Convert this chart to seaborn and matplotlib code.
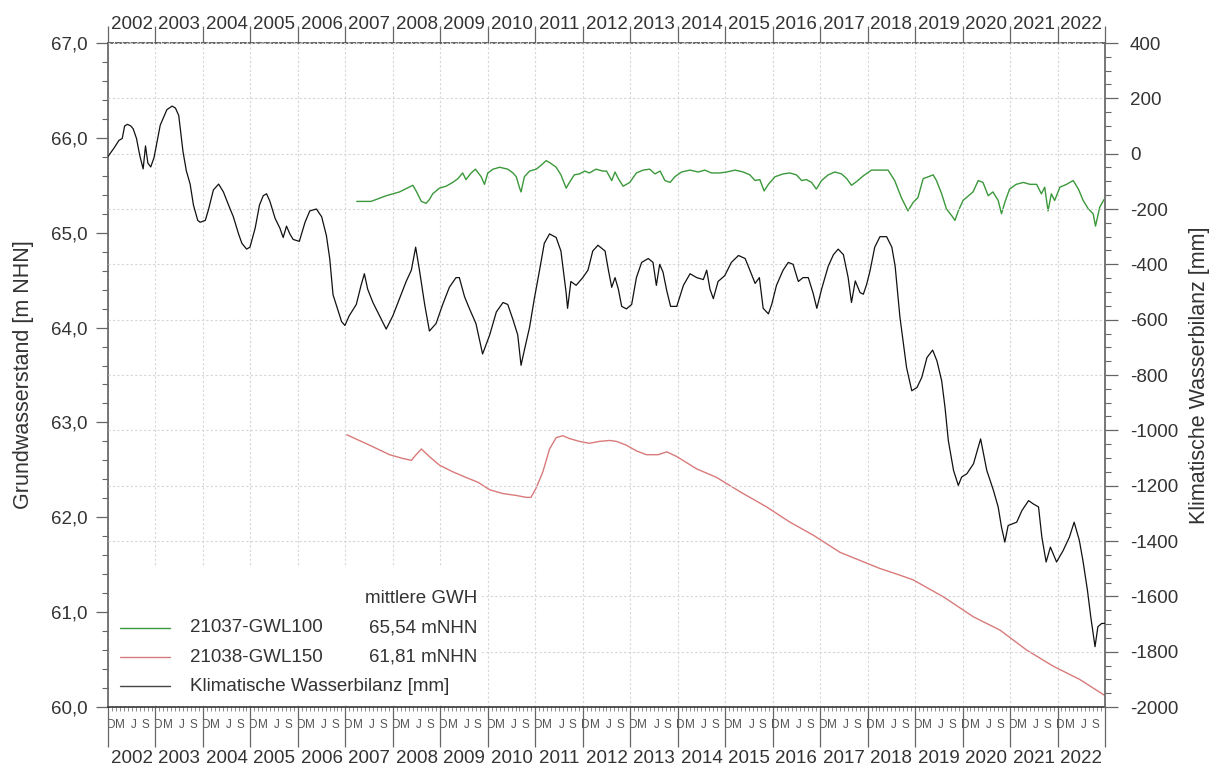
import matplotlib
matplotlib.use("Agg")
import matplotlib.pyplot as plt
import seaborn as sns
from matplotlib.patches import Rectangle
from matplotlib.ticker import FixedLocator, MultipleLocator, FuncFormatter

# ---------------- data ----------------
# time axis: hydrological years since 1 Nov 2001 (0 = start of hydro year 2002)
years = [str(y) for y in range(2002, 2023)]
month_letters = ["D", "M", "J", "S"]
month_label_frac = [0.062, 0.255, 0.55, 0.79]

gwl100_t = [5.24, 5.54, 5.86, 6.14, 6.42, 6.49, 6.60, 6.70, 6.77, 6.84, 6.98, 7.12, 7.26, 7.37,
            7.47, 7.54, 7.65, 7.74, 7.86, 7.93, 8.00, 8.11, 8.25, 8.42, 8.53, 8.60, 8.67, 8.70,
            8.77, 8.88, 9.02, 9.12, 9.23, 9.33, 9.44, 9.54, 9.65, 9.72, 9.82, 9.93, 10.04, 10.14,
            10.28, 10.42, 10.50, 10.61, 10.68, 10.75, 10.85, 10.99, 11.13, 11.27, 11.41, 11.52,
            11.63, 11.73, 11.84, 11.94, 12.08, 12.26, 12.43, 12.57, 12.71, 12.89, 13.03, 13.21,
            13.38, 13.52, 13.63, 13.73, 13.82, 13.91, 14.05, 14.22, 14.36, 14.50, 14.61, 14.71,
            14.82, 14.92, 15.03, 15.17, 15.31, 15.45, 15.56, 15.66, 15.77, 15.91, 16.08, 16.26,
            16.43, 16.57, 16.71, 16.85, 16.96, 17.06, 17.17, 17.28, 17.38, 17.45, 17.56, 17.66,
            17.77, 17.84, 17.91, 18.01, 18.08, 18.22, 18.33, 18.43, 18.54, 18.64, 18.75, 18.82,
            18.89, 18.99, 19.13, 19.28, 19.42, 19.56, 19.66, 19.73, 19.80, 19.87, 19.94, 20.05,
            20.19, 20.33, 20.44, 20.54, 20.65, 20.75, 20.80, 20.89, 20.98]
gwl100_m = [65.33, 65.33, 65.39, 65.43, 65.50, 65.44, 65.33, 65.31, 65.35, 65.41, 65.47, 65.49,
            65.53, 65.57, 65.63, 65.56, 65.63, 65.67, 65.59, 65.51, 65.63, 65.67, 65.69, 65.67,
            65.63, 65.59, 65.47, 65.43, 65.59, 65.65, 65.67, 65.71, 65.76, 65.73, 65.69, 65.61,
            65.47, 65.53, 65.61, 65.62, 65.65, 65.63, 65.67, 65.65, 65.65, 65.55, 65.64, 65.57,
            65.49, 65.53, 65.63, 65.66, 65.67, 65.62, 65.65, 65.55, 65.53, 65.59, 65.64, 65.66,
            65.64, 65.66, 65.63, 65.63, 65.64, 65.66, 65.64, 65.61, 65.55, 65.56, 65.44, 65.51,
            65.59, 65.62, 65.63, 65.61, 65.55, 65.56, 65.53, 65.46, 65.55, 65.61, 65.64, 65.62,
            65.57, 65.50, 65.54, 65.60, 65.66, 65.66, 65.66, 65.55, 65.37, 65.23, 65.32, 65.37,
            65.57, 65.59, 65.61, 65.55, 65.41, 65.25, 65.18, 65.13, 65.23, 65.34, 65.37, 65.43,
            65.55, 65.53, 65.39, 65.43, 65.34, 65.20, 65.32, 65.46, 65.51, 65.53, 65.51, 65.51,
            65.41, 65.48, 65.23, 65.41, 65.34, 65.48, 65.51, 65.55, 65.46, 65.34, 65.25, 65.20,
            65.07, 65.27, 65.35]

gwl150_t = [5.03, 5.51, 5.93, 6.21, 6.39, 6.49, 6.60, 6.77, 6.98, 7.26, 7.54, 7.79, 8.04, 8.32,
            8.60, 8.81, 8.91, 9.02, 9.16, 9.30, 9.44, 9.58, 9.72, 9.93, 10.14, 10.35, 10.57,
            10.71, 10.92, 11.13, 11.34, 11.59, 11.77, 11.98, 12.40, 12.82, 13.31, 13.87, 14.36,
            14.86, 15.42, 16.26, 16.68, 16.96, 17.60, 18.23, 18.79, 19.35, 19.91, 20.47, 21.00]
gwl150_m = [62.87, 62.76, 62.66, 62.62, 62.60, 62.66, 62.72, 62.64, 62.55, 62.48, 62.42, 62.37,
            62.29, 62.25, 62.23, 62.21, 62.21, 62.31, 62.48, 62.72, 62.84, 62.86, 62.83, 62.80,
            62.78, 62.80, 62.81, 62.80, 62.76, 62.70, 62.66, 62.66, 62.69, 62.64, 62.51, 62.42,
            62.27, 62.11, 61.95, 61.81, 61.63, 61.46, 61.39, 61.34, 61.16, 60.95, 60.81, 60.60,
            60.43, 60.29, 60.12]

kwb_t = [0.00, 0.13, 0.23, 0.30, 0.35, 0.41, 0.48, 0.53, 0.60, 0.67, 0.74, 0.79, 0.84, 0.90, 0.97,
         1.10, 1.17, 1.24, 1.35, 1.42, 1.49, 1.58, 1.65, 1.73, 1.80, 1.89, 1.94, 2.05, 2.12, 2.22,
         2.33, 2.43, 2.54, 2.64, 2.75, 2.82, 2.92, 2.99, 3.10, 3.19, 3.27, 3.34, 3.41, 3.52, 3.62,
         3.69, 3.76, 3.83, 3.90, 4.03, 4.15, 4.25, 4.39, 4.50, 4.60, 4.67, 4.74, 4.83, 4.92, 4.99,
         5.08, 5.23, 5.33, 5.40, 5.47, 5.58, 5.72, 5.86, 6.00, 6.14, 6.28, 6.39, 6.48, 6.56, 6.67,
         6.77, 6.91, 7.05, 7.19, 7.33, 7.40, 7.51, 7.61, 7.75, 7.89, 8.04, 8.18, 8.32, 8.42, 8.53,
         8.63, 8.70, 8.77, 8.88, 8.98, 9.09, 9.19, 9.30, 9.44, 9.54, 9.65, 9.68, 9.75, 9.86, 10.00,
         10.11, 10.21, 10.32, 10.47, 10.54, 10.61, 10.68, 10.75, 10.82, 10.92, 11.03, 11.13, 11.24,
         11.38, 11.48, 11.55, 11.62, 11.69, 11.77, 11.85, 11.98, 12.12, 12.26, 12.40, 12.54, 12.61,
         12.68, 12.75, 12.85, 12.99, 13.13, 13.28, 13.42, 13.52, 13.63, 13.72, 13.80, 13.91, 13.98,
         14.08, 14.22, 14.33, 14.43, 14.54, 14.64, 14.75, 14.85, 14.93, 15.03, 15.17, 15.28, 15.38,
         15.49, 15.59, 15.66, 15.74, 15.84, 15.91, 15.98, 16.05, 16.15, 16.26, 16.40, 16.51, 16.58,
         16.68, 16.82, 16.93, 17.04, 17.14, 17.25, 17.37, 17.46, 17.56, 17.63, 17.70, 17.81, 17.91,
         17.98, 18.09, 18.23, 18.38, 18.51, 18.65, 18.75, 18.82, 18.89, 18.96, 19.14, 19.25, 19.39,
         19.49, 19.60, 19.67, 19.76, 19.85, 19.98, 20.12, 20.25, 20.35, 20.46, 20.54, 20.63, 20.70,
         20.79, 20.85, 20.93, 21.00]
kwb_mm = [-10, 21, 48, 55, 100, 106, 100, 90, 55, -7, -55, 28, -34, -48, -14,
          103, 131, 159, 172, 165, 138, 7, -62, -110, -186, -241, -248, -241, -200, -131,
          -110, -138, -186, -228, -290, -324, -345, -338, -269, -186, -152, -145, -172, -234, -269,
          -303, -262, -290, -310, -317, -248, -207, -200, -228, -296, -379, -510, -559, -607, -621,
          -586, -545, -476, -434, -490, -538, -586, -634, -586, -524, -462, -421, -338, -421, -545,
          -641, -614, -545, -483, -448, -448, -517, -559, -614, -724, -655, -572, -538, -545, -600,
          -655, -765, -710, -627, -524, -421, -324, -290, -303, -352, -503, -559, -462, -476, -448,
          -421, -352, -331, -352, -421, -483, -448, -490, -552, -561, -545, -448, -393,
          -379, -393, -476, -400, -428, -496, -552, -552, -476, -434, -448, -455, -421,
          -490, -524, -462, -441, -393, -368, -379, -421, -469, -448, -559, -579, -545,
          -476, -421, -393, -400, -462, -448, -448, -503, -559, -490, -407, -365, -345,
          -365, -448, -538, -460, -502, -508, -472, -424, -338, -300, -300, -338, -407,
          -590, -773, -857, -845, -809, -737, -710, -749, -821, -917, -1037, -1145, -1199,
          -1169, -1157, -1121, -1031, -1145, -1217, -1277, -1350, -1404, -1344, -1332, -1290, -1254,
          -1266, -1277, -1386, -1476, -1422, -1476, -1434, -1386, -1332, -1398, -1476, -1578, -1674,
          -1782, -1710, -1698, -1698]

series_labels = ["21037-GWL100", "21038-GWL150", "Klimatische Wasserbilanz [mm]"]
mean_header = "mittlere GWH"
mean_values = ["65,54 mNHN", "61,81 mNHN"]

c_green = "#3b983b"
c_red = "#d97a7a"
c_black = "#111111"
txt = "#333333"

# ---------------- plot ----------------
sns.set_theme(style="white")
plt.rcParams["font.family"] = ["Liberation Sans", "DejaVu Sans"]

fig = plt.figure(figsize=(12.2, 7.74), dpi=100)
ax = fig.add_axes([108 / 1220, 1 - 707 / 774, 997 / 1220, 664 / 774])
ax2 = ax.twinx()

sns.lineplot(x=gwl100_t, y=gwl100_m, ax=ax, color=c_green, linewidth=1.0, sort=False, zorder=3)
sns.lineplot(x=gwl150_t, y=gwl150_m, ax=ax, color=c_red, linewidth=1.0, sort=False, zorder=3)
sns.lineplot(x=kwb_t, y=kwb_mm, ax=ax2, color=c_black, linewidth=0.9, sort=False, zorder=3)

ax.set_xlim(0, 21)
ax.set_ylim(60, 67)
ax2.set_ylim(-2000, 400)

# grid
grid_kw = dict(color="#d6d6d6", linestyle=(0, (2, 2)), linewidth=0.8)
ax.set_axisbelow(True)
ax2.set_axisbelow(True)
ax.xaxis.grid(True, which="major", **grid_kw)
ax.yaxis.grid(False)
ax2.yaxis.grid(True, which="major", **grid_kw)
ax2.xaxis.grid(False)

# x ticks (bottom)
ax.xaxis.set_major_locator(FixedLocator(range(22)))
ax.xaxis.set_minor_locator(MultipleLocator(1 / 12))
ax.tick_params(axis="x", which="major", direction="out", length=29, width=0.9, color="#666666",
               bottom=True, top=False, labelbottom=False)
ax.tick_params(axis="x", which="minor", direction="out", length=3, width=0.6, color="#777777",
               bottom=True, top=False)

sec_m = ax.secondary_xaxis("bottom")
sec_m.set_xticks([i + f for i in range(21) for f in month_label_frac],
                 labels=month_letters * 21)
sec_m.tick_params(length=0, pad=9, labelsize=8.5, labelcolor="#555555")
for s in sec_m.spines.values():
    s.set_visible(False)

sec_y = ax.secondary_xaxis("bottom")
sec_y.set_xticks([i + 0.5 for i in range(21)], labels=years)
sec_y.tick_params(length=0, pad=31, labelsize=13.5, labelcolor=txt)
for s in sec_y.spines.values():
    s.set_visible(False)

sec_t = ax.secondary_xaxis("top")
sec_t.set_xticks(range(22), labels=[""] * 22)
sec_t.set_xticks([i + 0.5 for i in range(21)], labels=years, minor=True)
sec_t.tick_params(which="major", length=12, width=0.9, color="#666666", direction="out")
sec_t.tick_params(which="minor", length=0, pad=7, labelsize=13.5, labelcolor=txt)
for s in sec_t.spines.values():
    s.set_visible(False)

# y ticks
ax.yaxis.set_major_locator(MultipleLocator(1))
ax.yaxis.set_minor_locator(MultipleLocator(0.2))
ax.yaxis.set_major_formatter(FuncFormatter(lambda v, p: f"{v:.1f}".replace(".", ",")))
ax.tick_params(axis="y", which="major", direction="out", length=9, width=0.9, color="#666666",
               left=True, right=False, labelsize=13.5, labelcolor=txt, pad=6)
ax.tick_params(axis="y", which="minor", direction="out", length=4, width=0.8, color="#666666",
               left=True, right=False)

ax2.yaxis.set_major_locator(MultipleLocator(200))
ax2.yaxis.set_minor_locator(MultipleLocator(50))
ax2.yaxis.set_major_formatter(FuncFormatter(lambda v, p: f"{v:.0f}"))
ax2.tick_params(axis="y", which="major", direction="out", length=9, width=0.9, color="#666666",
                right=True, left=False, labelsize=13.5, labelcolor=txt, pad=9)
ax2.tick_params(axis="y", which="minor", direction="out", length=4, width=0.8, color="#666666",
                right=True, left=False)

# spines
for a in (ax, ax2):
    for s in a.spines.values():
        s.set_visible(False)
ax.spines["left"].set_visible(True)
ax.spines["left"].set_color("#666666")
ax.spines["bottom"].set_visible(True)
ax.spines["bottom"].set_color("#333333")
ax.spines["bottom"].set_linewidth(1.2)
ax.spines["top"].set_visible(True)
ax.spines["top"].set_color("#555555")
ax.spines["top"].set_linestyle((0, (3, 1.5)))
ax2.spines["right"].set_visible(True)
ax2.spines["right"].set_color("#666666")

ax.set_ylabel("Grundwasserstand [m NHN]", fontsize=15.5, color=txt, labelpad=12)
ax2.set_ylabel("Klimatische Wasserbilanz [mm]", fontsize=15.5, color=txt, labelpad=8, rotation=90)
ax.set_xlabel("")

# legend block (white box covering the grid)
ax2.add_patch(Rectangle((0.002, 0.003), 0.373, 0.208, transform=ax2.transAxes,
                        facecolor="white", edgecolor="none", zorder=1))
leg_colors = [c_green, c_red, "#444444"]
leg_y = [0.119, 0.0753, 0.0316]
for lab, col, yy in zip(series_labels, leg_colors, leg_y):
    ax2.plot([0.012, 0.062], [yy, yy], transform=ax2.transAxes, color=col, lw=1.0, zorder=4)
    ax2.text(0.082, yy, lab, transform=ax2.transAxes, fontsize=13.5, color=txt,
             va="center", ha="left", zorder=4)
ax2.text(0.370, 0.164, mean_header, transform=ax2.transAxes, fontsize=13.5, color=txt,
         va="center", ha="right", zorder=4)
for val, yy in zip(mean_values, leg_y[:2]):
    ax2.text(0.370, yy, val, transform=ax2.transAxes, fontsize=13.5, color=txt,
             va="center", ha="right", zorder=4)

fig.savefig("out.png", dpi=100, facecolor="white")
